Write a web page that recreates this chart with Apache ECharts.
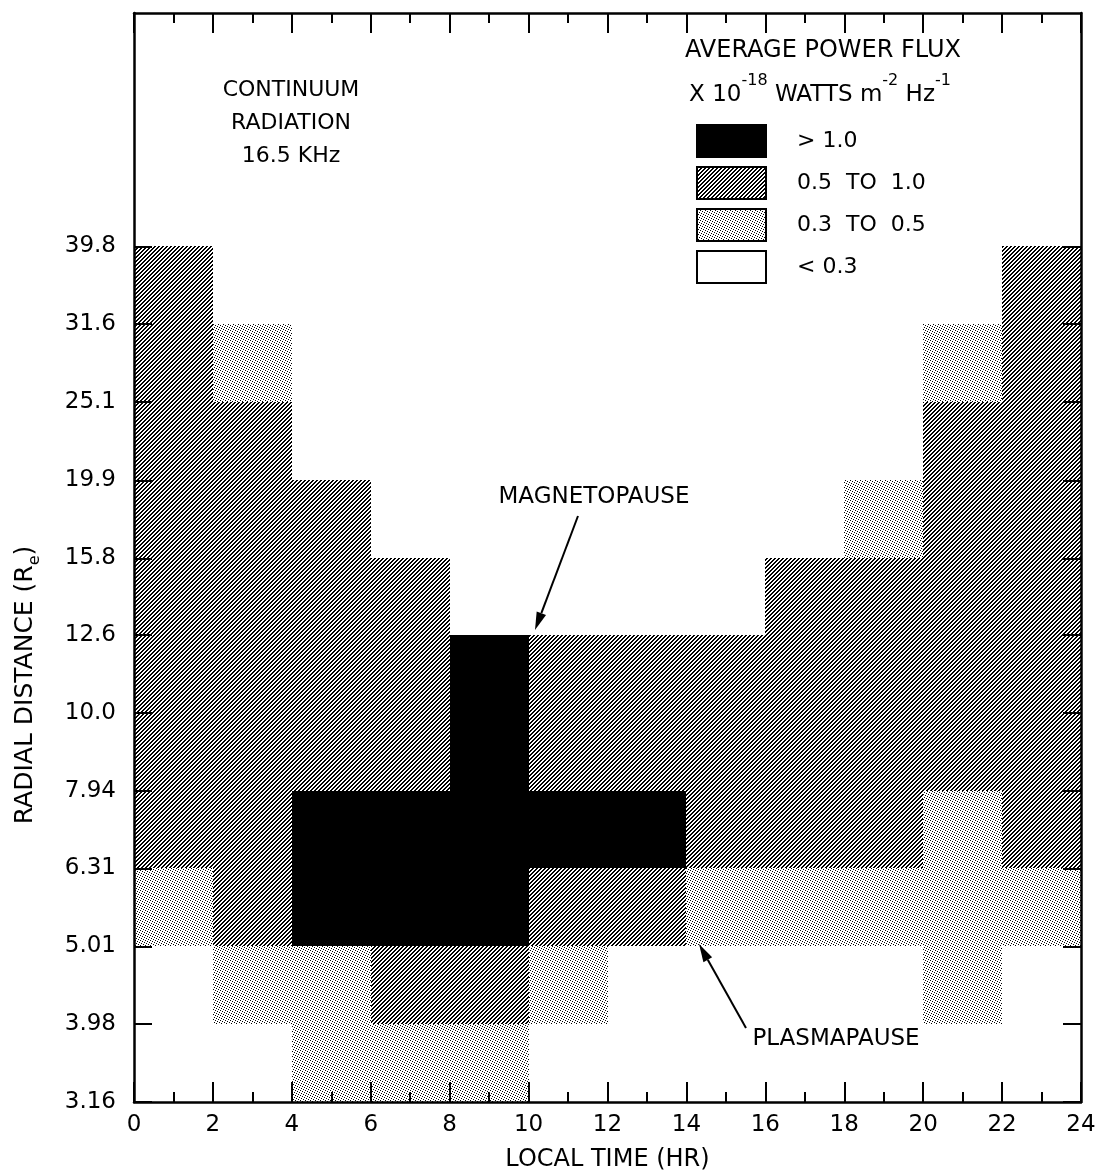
<!DOCTYPE html>
<html>
<head>
<meta charset="utf-8">
<script src="https://cdn.jsdelivr.net/npm/echarts@6/dist/echarts.min.js"></script>
<style>
  html, body { margin: 0; padding: 0; background: #fff; }
  #chart { width: 1106px; height: 1174px; }
</style>
</head>
<body>
<div id="chart"></div>
<script>
// Local time axis (hours) and radial distance ticks (Earth radii, 0.1-decade steps)
const hourTicks = [0, 2, 4, 6, 8, 10, 12, 14, 16, 18, 20, 22, 24];
const radialTicks = [3.16, 3.98, 5.01, 6.31, 7.94, 10.0, 12.6, 15.8, 19.9, 25.1, 31.6, 39.8];
const radialTop = 79.4;

// Flux bins: [start hour, end hour, inner R, outer R]
const fluxAbove1 = [
  [4, 8, 5.01, 7.94],
  [8, 10, 5.01, 12.6],
  [10, 14, 6.31, 7.94]
];
const flux05to1 = [
  [0, 2, 6.31, 39.8],
  [2, 4, 5.01, 25.1],
  [4, 6, 7.94, 19.9],
  [6, 8, 7.94, 15.8],
  [6, 10, 3.98, 5.01],
  [10, 14, 5.01, 6.31],
  [10, 14, 7.94, 12.6],
  [14, 16, 6.31, 12.6],
  [16, 20, 6.31, 15.8],
  [20, 22, 7.94, 25.1],
  [22, 24, 6.31, 39.8]
];
const flux03to05 = [
  [0, 2, 5.01, 6.31],
  [2, 4, 3.98, 5.01],
  [2, 4, 25.1, 31.6],
  [4, 6, 3.16, 5.01],
  [6, 10, 3.16, 3.98],
  [10, 12, 3.98, 5.01],
  [14, 20, 5.01, 6.31],
  [18, 20, 15.8, 19.9],
  [20, 22, 3.98, 7.94],
  [20, 22, 25.1, 31.6],
  [22, 24, 5.01, 6.31]
];

const legendLabels = ['> 1.0', '0.5  TO  1.0', '0.3  TO  0.5', '< 0.3'];

const FONT = '"DejaVu Sans", "Liberation Sans", sans-serif';

// Radial distance mapped onto an evenly spaced logarithmic axis (one unit per 0.1 decade)
const logPos = r => Math.log10(r / radialTicks[0]) * 10;

// Fill textures
function hatchTile() {
  const c = document.createElement('canvas');
  c.width = 4; c.height = 4;
  const ctx = c.getContext('2d');
  ctx.fillStyle = '#fff';
  ctx.fillRect(0, 0, 4, 4);
  ctx.fillStyle = '#000';
  for (let y = 0; y < 4; y++) {
    for (let x = 0; x < 4; x++) {
      if ((x + y) % 4 < 2) ctx.fillRect(x, y, 1, 1);
    }
  }
  return c;
}
function stippleTile() {
  const c = document.createElement('canvas');
  c.width = 5; c.height = 5;
  const ctx = c.getContext('2d');
  ctx.fillStyle = '#fff';
  ctx.fillRect(0, 0, 5, 5);
  ctx.fillStyle = '#000';
  [[0, 0], [2, 1], [4, 2], [1, 3], [3, 4]].forEach(p => ctx.fillRect(p[0], p[1], 1, 1));
  return c;
}
const hatchFill = { image: hatchTile(), repeat: 'repeat' };
const stippleFill = { image: stippleTile(), repeat: 'repeat' };
const legendFills = ['#000', hatchFill, stippleFill, '#fff'];

function cellSeries(name, cells, fill) {
  return {
    type: 'custom',
    name: name,
    coordinateSystem: 'cartesian2d',
    xAxisIndex: 0,
    yAxisIndex: 0,
    silent: true,
    z: 2,
    data: cells.map(c => [c[0], c[1], logPos(c[2]), logPos(c[3])]),
    encode: { x: [0, 1], y: [2, 3] },
    renderItem: function (params, api) {
      const p0 = api.coord([api.value(0), api.value(3)]).map(Math.round);
      const p1 = api.coord([api.value(1), api.value(2)]).map(Math.round);
      return {
        type: 'rect',
        shape: { x: p0[0], y: p0[1], width: p1[0] - p0[0], height: p1[1] - p0[1] },
        style: { fill: fill, stroke: null }
      };
    }
  };
}

function arrow(x1, y1, x2, y2) {
  const dx = x2 - x1, dy = y2 - y1;
  const len = Math.hypot(dx, dy);
  const ux = dx / len, uy = dy / len;
  const hl = 18, hw = 5;
  const bx = x2 - ux * hl, by = y2 - uy * hl;
  return [
    { type: 'line', z: 20, shape: { x1: x1, y1: y1, x2: bx, y2: by }, style: { stroke: '#000', lineWidth: 2 } },
    { type: 'polygon', z: 20, shape: { points: [[x2, y2], [bx - uy * hw, by + ux * hw], [bx + uy * hw, by - ux * hw]] }, style: { fill: '#000' } }
  ];
}

const radialTickPos = radialTicks.map(logPos);
const radialLabel = v => {
  const r = radialTicks.find(t => Math.abs(logPos(t) - v) < 1e-6);
  if (r === undefined) return '';
  return r < 10 ? r.toFixed(2) : r.toFixed(1);
};

const axisLineStyle = { color: '#000', width: 2.5 };
const tickLineStyle = { color: '#000', width: 2 };

function timeAxis(position, withLabels) {
  return {
    type: 'value',
    position: position,
    min: hourTicks[0],
    max: hourTicks[hourTicks.length - 1],
    interval: hourTicks[1] - hourTicks[0],
    z: 5,
    axisLine: { show: true, onZero: false, lineStyle: axisLineStyle },
    axisTick: { show: true, inside: true, length: 20, lineStyle: tickLineStyle },
    minorTick: { show: true, splitNumber: 2, length: 10, lineStyle: tickLineStyle },
    splitLine: { show: false },
    minorSplitLine: { show: false },
    axisLabel: {
      show: withLabels,
      color: '#000',
      fontFamily: FONT,
      fontSize: 23,
      margin: 12
    },
    name: withLabels ? 'LOCAL TIME (HR)' : '',
    nameLocation: 'middle',
    nameGap: 46,
    nameTextStyle: { color: '#000', fontFamily: FONT, fontSize: 24 }
  };
}

function radialAxis(position, withLabels) {
  return {
    type: 'value',
    position: position,
    min: 0,
    max: logPos(radialTop),
    z: 5,
    axisLine: { show: true, onZero: false, lineStyle: axisLineStyle },
    axisTick: { show: true, inside: true, length: 18, lineStyle: tickLineStyle, customValues: radialTickPos },
    splitLine: { show: false },
    axisLabel: {
      show: withLabels,
      customValues: radialTickPos,
      formatter: radialLabel,
      color: '#000',
      fontFamily: FONT,
      fontSize: 23,
      margin: 18
    }
  };
}

// Legend block
const legendX = 697, legendY0 = 125, legendStep = 42, boxW = 69, boxH = 32;
const legendGraphics = [];
legendLabels.forEach((label, i) => {
  const y = legendY0 + i * legendStep;
  legendGraphics.push({
    type: 'rect', z: 20,
    shape: { x: legendX, y: y, width: boxW, height: boxH },
    style: { fill: legendFills[i], stroke: '#000', lineWidth: 2 }
  });
  legendGraphics.push({
    type: 'text', z: 20,
    style: {
      text: label, x: legendX + 100, y: y + boxH / 2,
      align: 'left', verticalAlign: 'middle',
      fontFamily: FONT, fontSize: 22, fill: '#000'
    }
  });
});

const chart = echarts.init(document.getElementById('chart'), null, { renderer: 'canvas' });
chart.setOption({
  animation: false,
  backgroundColor: '#fff',
  grid: { left: 134, right: 25, top: 13, bottom: 72, outerBoundsMode: 'none' },
  xAxis: [timeAxis('bottom', true), timeAxis('top', false)],
  yAxis: [radialAxis('left', true), radialAxis('right', false)],
  series: [
    cellSeries('> 1.0', fluxAbove1, '#000'),
    cellSeries('0.5 to 1.0', flux05to1, hatchFill),
    cellSeries('0.3 to 0.5', flux03to05, stippleFill)
  ],
  graphic: [
    {
      type: 'text', z: 20,
      x: 28, y: 685, rotation: Math.PI / 2,
      style: {
        text: '{n|RADIAL DISTANCE (R}{b|e}{n|)}',
        x: 0, y: 0,
        align: 'center', verticalAlign: 'middle',
        fill: '#000',
        rich: {
          n: { fontFamily: FONT, fontSize: 25, lineHeight: 30, verticalAlign: 'top', fill: '#000' },
          b: { fontFamily: FONT, fontSize: 16, lineHeight: 16, verticalAlign: 'bottom', fill: '#000' }
        }
      }
    },
    {
      type: 'text', z: 20,
      style: {
        text: 'CONTINUUM\nRADIATION\n16.5 KHz', x: 291, y: 74,
        align: 'center', verticalAlign: 'top', lineHeight: 33,
        fontFamily: FONT, fontSize: 22, fill: '#000'
      }
    },
    {
      type: 'text', z: 20,
      style: {
        text: 'AVERAGE POWER FLUX', x: 823, y: 51,
        align: 'center', verticalAlign: 'middle',
        fontFamily: FONT, fontSize: 24, fill: '#000'
      }
    },
    {
      type: 'text', z: 20,
      style: {
        text: '{n|X 10}{s|-18}{n| WATTS m}{s|-2}{n| Hz}{s|-1}',
        x: 820, y: 90,
        align: 'center', verticalAlign: 'middle',
        fill: '#000',
        rich: {
          n: { fontFamily: FONT, fontSize: 23, lineHeight: 34, verticalAlign: 'bottom', fill: '#000' },
          s: { fontFamily: FONT, fontSize: 16, lineHeight: 22, verticalAlign: 'top', fill: '#000' }
        }
      }
    },
    ...legendGraphics,
    {
      type: 'text', z: 20,
      style: {
        text: 'MAGNETOPAUSE', x: 594, y: 497,
        align: 'center', verticalAlign: 'middle',
        fontFamily: FONT, fontSize: 23, fill: '#000'
      }
    },
    ...arrow(578, 516, 535, 630),
    {
      type: 'text', z: 20,
      style: {
        text: 'PLASMAPAUSE', x: 836, y: 1039,
        align: 'center', verticalAlign: 'middle',
        fontFamily: FONT, fontSize: 23, fill: '#000'
      }
    },
    ...arrow(746, 1028, 699, 944)
  ]
});
</script>
</body>
</html>
